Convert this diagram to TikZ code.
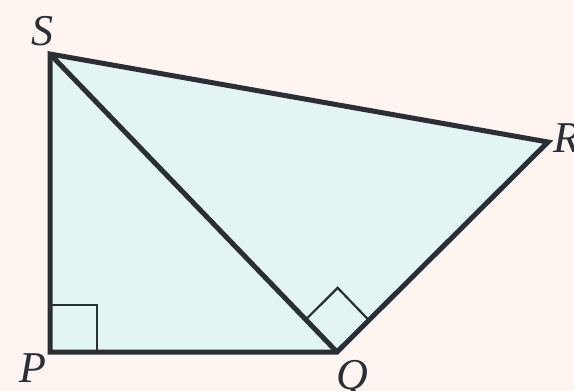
\documentclass[tikz,border=0pt]{standalone}
\usepackage{fontspec}
\setmainfont{Liberation Serif}
\usetikzlibrary{calc}
\definecolor{bgc}{HTML}{FEF5F1}
\definecolor{fillc}{HTML}{E2F5F3}
\definecolor{linec}{HTML}{2A2E35}
\tikzset{
  edge/.style={draw=linec, line width=5pt, line join=miter},
  marker/.style={draw=linec, line width=2.2pt},
  lbl/.style={anchor=base, inner sep=0pt, text=linec, font=\fontsize{44}{48}\selectfont\itshape}
}
\begin{document}
\begin{tikzpicture}[x=1pt,y=-1pt]
\fill[bgc] (0,0) rectangle (574,391);
\useasboundingbox (0,0) rectangle (574,391);
\coordinate (S) at (50,54);
\coordinate (R) at (548,142);
\coordinate (Q) at (337,352);
\coordinate (P) at (50,352);
\fill[fillc] (S) -- (R) -- (Q) -- (P) -- cycle;
% right angle at P
\coordinate (pa) at ($(P)+(47,0)$);
\coordinate (pb) at ($(P)+(0,-47)$);
\coordinate (pc) at ($(P)+(47,-47)$);
\draw[marker] (pa) -- (pc) -- (pb);
% right angle at Q
\coordinate (qa) at ($(Q)!45pt!(S)$);
\coordinate (qb) at ($(Q)!45pt!(R)$);
\coordinate (qc) at ($(qa)+(qb)-(Q)$);
\draw[marker] (qa) -- (qc) -- (qb);
\draw[edge] (S) -- (R) -- (Q) -- (P) -- cycle;
\draw[edge] (S) -- (Q);
\node[lbl] (lS) at (42,45) {S};
\node[lbl, anchor=base west] (lR) at (553,152) {R};
\node[lbl] (lP) at (33,382) {P};
\node[lbl] (lQ) at (352,389) {Q};
\end{tikzpicture}
\end{document}
